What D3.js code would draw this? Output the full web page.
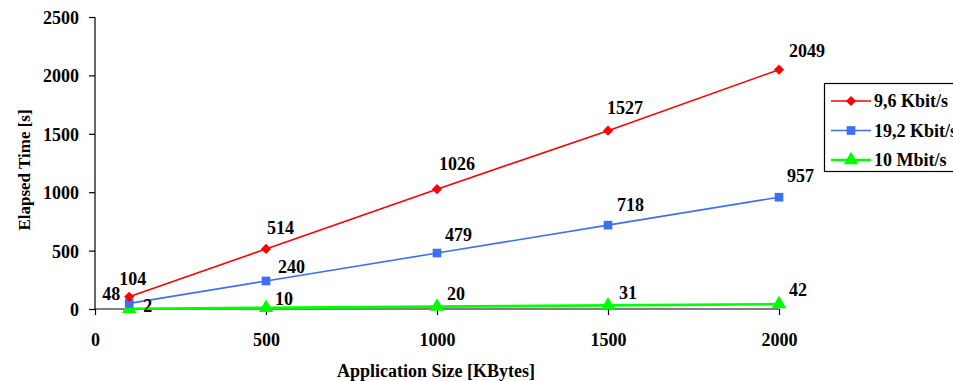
<!DOCTYPE html>
<html>
<head>
<meta charset="utf-8">
<script src="https://cdn.jsdelivr.net/npm/d3@7"></script>
<style>
  body { margin: 0; background: #fff; }
  text { font-family: "Liberation Serif", "Times New Roman", serif; font-weight: bold; fill: #000; }
</style>
</head>
<body>
<svg id="chart" width="953" height="381"></svg>
<script>
// Application sizes (KBytes) and elapsed transfer times (s) per link speed
const sizes = [100, 500, 1000, 1500, 2000];
const seriesNames = ["9,6 Kbit/s", "19,2 Kbit/s", "10 Mbit/s"];
const times96k = [104, 514, 1026, 1527, 2049];
const times192k = [48, 240, 479, 718, 957];
const times10M = [2, 10, 20, 31, 42];
const xTicks = [0, 500, 1000, 1500, 2000];
const yTicks = [0, 500, 1000, 1500, 2000, 2500];

// Value-label placement relative to each point [dx, dy]
const offs96k = [[-10, -12], [1, -15], [2, -19], [-1, -17], [10, -13]];
const offs192k = [[-27, -3], [12, -8], [8, -12], [9, -14], [8, -15]];
const offs10M = [[14, 3], [9, -3], [10, -7], [11, -6], [10, -8]];

const serif = '"Liberation Serif", "Times New Roman", serif';
const svg = d3.select("#chart");
const x = d3.scaleLinear().domain([0, 2000]).range([95, 779]);
const y = d3.scaleLinear().domain([0, 2500]).range([309, 17]);

// Axes
const yAxis = svg.append("g").attr("transform", "translate(95,0)")
  .call(d3.axisLeft(y).tickValues(yTicks).tickSize(6).tickPadding(10).tickFormat(d3.format("d")));
const xAxis = svg.append("g").attr("transform", "translate(0,309)")
  .call(d3.axisBottom(x).tickValues(xTicks).tickSize(6).tickPadding(10).tickFormat(d3.format("d")));
[yAxis, xAxis].forEach(a => {
  a.attr("font-family", serif).attr("font-size", 18);
  a.select(".domain").attr("stroke", "#000").attr("stroke-width", 1.2);
  a.selectAll(".tick line").attr("stroke", "#000").attr("stroke-width", 1.2);
  a.selectAll(".tick text").attr("font-size", 18).attr("font-family", serif).attr("font-weight", "bold");
});
yAxis.select(".domain").attr("d", `M0,${y(2500)}V${y(0)}`);
xAxis.select(".domain").attr("d", `M${x(0)},0H${x(2000)}`);
yAxis.selectAll(".tick text").attr("dy", "0.36em");
xAxis.selectAll(".tick text").attr("dy", "1.15em");

// Axis titles
svg.append("text").attr("x", 436).attr("y", 377).attr("text-anchor", "middle")
  .attr("font-size", 18).text("Application Size [KBytes]");
svg.append("text").attr("transform", "translate(30,170) rotate(-90)").attr("text-anchor", "middle")
  .attr("font-size", 17).text("Elapsed Time [s]");

const series = [
  { name: seriesNames[0], values: times96k, offs: offs96k, color: "#ff0000", width: 1.6, shape: d3.symbolSquare, size: 52, rot: 45 },
  { name: seriesNames[1], values: times192k, offs: offs192k, color: "#3f6ef6", width: 1.6, shape: d3.symbolSquare, size: 75, rot: 0 },
  { name: seriesNames[2], values: times10M, offs: offs10M, color: "#00ff00", width: 2.6, shape: d3.symbolTriangle, size: 90, rot: 0 }
];

const line = d3.line().x((d, i) => x(sizes[i])).y(d => y(d));

// Slowest link on top: draw in reverse order
series.slice().reverse().forEach(s => {
  svg.append("path").datum(s.values).attr("d", line)
    .attr("fill", "none").attr("stroke", s.color).attr("stroke-width", s.width);
  svg.selectAll(null).data(s.values).enter().append("path")
    .attr("d", d3.symbol().type(s.shape).size(s.size))
    .attr("transform", (d, i) => `translate(${x(sizes[i])},${y(d)}) rotate(${s.rot})`)
    .attr("fill", s.color);
});

series.forEach(s => {
  svg.selectAll(null).data(s.values).enter().append("text")
    .attr("x", (d, i) => x(sizes[i]) + s.offs[i][0])
    .attr("y", (d, i) => y(d) + s.offs[i][1])
    .attr("font-size", 18)
    .text(d => d);
});

// Legend
const lg = svg.append("g");
lg.append("rect").attr("x", 824.5).attr("y", 83.5).attr("width", 140).attr("height", 88)
  .attr("fill", "#fff").attr("stroke", "#000").attr("stroke-width", 1.2);
series.forEach((s, i) => {
  const cy = 101 + i * 29.5;
  lg.append("line").attr("x1", 831).attr("x2", 871).attr("y1", cy).attr("y2", cy)
    .attr("stroke", s.color).attr("stroke-width", s.width);
  lg.append("path").attr("d", d3.symbol().type(s.shape).size(s.size))
    .attr("transform", `translate(851,${cy}) rotate(${s.rot})`).attr("fill", s.color);
  lg.append("text").attr("x", 874).attr("y", cy + 6).attr("font-size", 18).text(s.name);
});
</script>
</body>
</html>
